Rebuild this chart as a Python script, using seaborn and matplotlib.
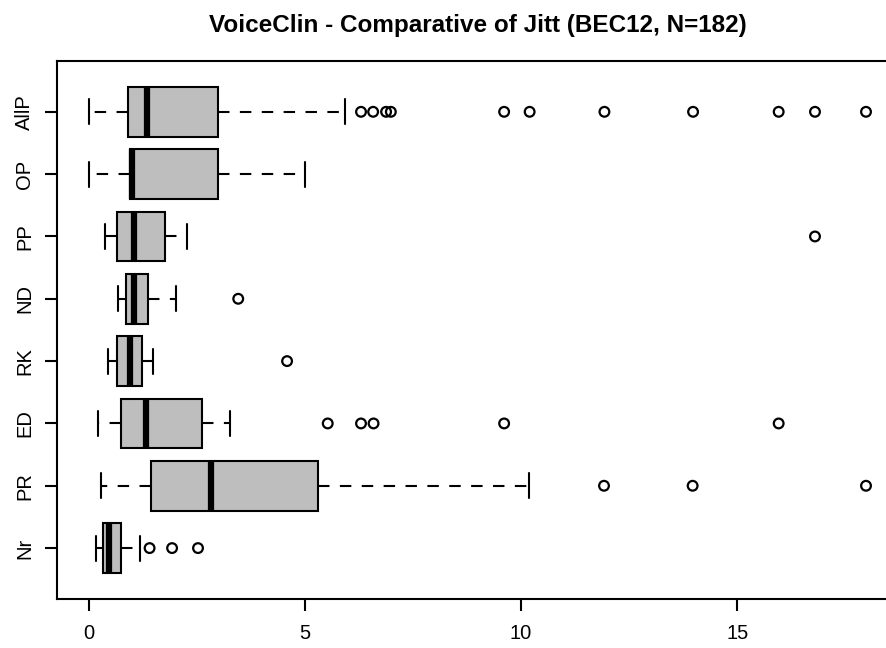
import numpy as np
import pandas as pd
import matplotlib
matplotlib.use("Agg")
import matplotlib.pyplot as plt
import seaborn as sns

# Groups, listed top to bottom
groups = ["AllP", "OP", "PP", "ND", "RK", "ED", "PR", "Nr"]

# Five-number summaries (lower whisker, Q1, median, Q3, upper whisker)
whisker_lo = [0.00, 0.00, 0.39, 0.67, 0.45, 0.21, 0.28, 0.17]
q1 = [0.92, 0.95, 0.65, 0.87, 0.65, 0.76, 1.44, 0.34]
median = [1.35, 1.01, 1.06, 1.04, 0.95, 1.32, 2.84, 0.47]
q3 = [3.00, 3.00, 1.76, 1.38, 1.23, 2.63, 5.30, 0.76]
whisker_hi = [5.93, 5.00, 2.27, 2.03, 1.48, 3.27, 10.19, 1.18]

# Outlying observations per group
out_allp = [6.30, 6.58, 6.88, 6.99, 9.61, 10.20, 11.93, 13.98, 15.96, 16.80, 17.98]
out_op = []
out_pp = [16.80]
out_nd = [3.46]
out_rk = [4.59]
out_ed = [5.53, 6.30, 6.59, 9.61, 15.96]
out_pr = [11.92, 13.97, 17.98]
out_nr = [1.41, 1.93, 2.53]

x_ticks = [0, 5, 10, 15]
title = "VoiceClin - Comparative of Jitt (BEC12, N=182)"

# Long-form table of the summary points for each box
box_rows = []
for i, g in enumerate(groups):
    for v in (whisker_lo[i], q1[i], median[i], q3[i], whisker_hi[i]):
        box_rows.append({"group": g, "jitt": v})
box_df = pd.DataFrame(box_rows)

outliers = [out_allp, out_op, out_pp, out_nd, out_rk, out_ed, out_pr, out_nr]
out_rows = [{"group": g, "jitt": v} for g, vals in zip(groups, outliers) for v in vals]
out_df = pd.DataFrame(out_rows)

sns.set_theme(style="white")
plt.rcParams["font.family"] = ["Liberation Sans", "DejaVu Sans"]

W, H = 887, 648
fig = plt.figure(figsize=(W / 100, H / 100), dpi=100)
left, right, top, bottom = 57.5, 898.0, 60.7, 599.2
ax = fig.add_axes([left / W, 1 - bottom / H, (right - left) / W, (bottom - top) / H])

lw = 1.5
sns.boxplot(
    data=box_df, x="jitt", y="group", order=groups, orient="h",
    whis=(0, 100), showfliers=False, width=0.8,
    color="#bebebe", saturation=1, linecolor="black", linewidth=lw,
    medianprops=dict(linewidth=4.5, color="black", solid_capstyle="butt"),
    whiskerprops=dict(linestyle=(0, (5.5, 5)), linewidth=lw),
    capprops=dict(linewidth=lw),
    capwidths=0.4,
    ax=ax,
)

sns.stripplot(
    data=out_df, x="jitt", y="group", order=groups, orient="h",
    jitter=False, marker="o", size=7, facecolors="none",
    edgecolor="black", linewidth=1.6, ax=ax,
)
for coll in ax.collections:
    coll.set_facecolor("none")
    coll.set_edgecolor("black")

ax.set_xlim(-0.72, 18.72)
ax.set_ylim(7.82, -0.82)
ax.set_xticks(x_ticks)
ax.set_xticklabels([str(t) for t in x_ticks])
ax.set_yticks(range(len(groups)))
ax.set_yticklabels(groups, rotation=90, va="center")
ax.set_xlabel("")
ax.set_ylabel("")

for side in ["left", "bottom", "top", "right"]:
    ax.spines[side].set_visible(True)
    ax.spines[side].set_linewidth(lw)
    ax.spines[side].set_color("black")

ax.tick_params(axis="both", which="major", direction="out", length=8.6,
               width=lw, color="black", labelsize=14.5, labelcolor="black",
               bottom=True, left=True, top=False, right=False)
ax.tick_params(axis="x", pad=9)
ax.tick_params(axis="y", pad=8)
ax.grid(False)

# Title centred over the plotting region
fig.text(((left + right) / 2) / W, 1 - 32 / H, title, ha="center", va="baseline",
         fontsize=17.5, fontweight="bold", color="black")

fig.savefig("out.png", dpi=100, facecolor="white")
